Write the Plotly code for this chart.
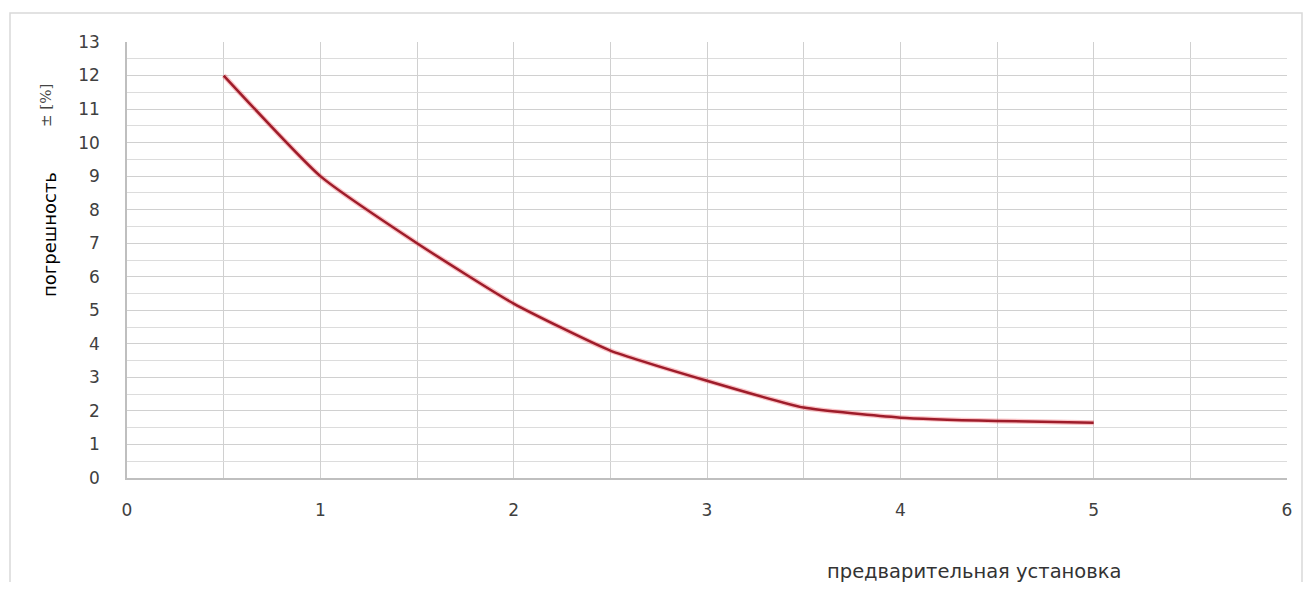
import plotly.graph_objects as go

x_vals = [0.5, 1, 1.5, 2, 2.5, 3, 3.5, 4, 4.5, 5]
y_vals = [12, 9, 7, 5.2, 3.8, 2.9, 2.1, 1.8, 1.7, 1.65]
x_title = "предварительная установка"
y_title = "погрешность"
y_unit = "± [%]"

OFF = 8  # page body margin
W, H = 1295, 574
L, T = 127 - OFF, 42 - OFF
pw, ph = 1160, 436
R = W - L - pw
B = H - T - ph

def px2x(p):
    return (p - OFF - L) / pw

def py2y(p):
    return (T + ph - (p - OFF)) / ph

fig = go.Figure()
fig.add_trace(go.Scatter(x=x_vals, y=y_vals, mode="lines",
                         line=dict(color="rgba(240,80,90,0.35)", width=5, shape="spline", smoothing=0.5),
                         hoverinfo="skip", showlegend=False))
fig.add_trace(go.Scatter(x=x_vals, y=y_vals, mode="lines",
                         line=dict(color="#9e1c2a", width=2.5, shape="spline", smoothing=0.5),
                         showlegend=False))

tickfont = dict(family="DejaVu Sans", size=17, color="#404040")
fig.update_xaxes(range=[0, 6], dtick=1, tick0=0, showgrid=True, gridcolor="#d0d0d0", gridwidth=1,
                 minor=dict(dtick=0.5, showgrid=True, gridcolor="#d0d0d0", gridwidth=1),
                 showline=True, linecolor="#bfbfbf", linewidth=1.5, zeroline=False,
                 ticks="", tickfont=tickfont, ticklabelstandoff=16)
fig.update_yaxes(range=[0, 13], dtick=1, tick0=0, showgrid=True, gridcolor="#d0d0d0", gridwidth=1,
                 minor=dict(dtick=0.5, showgrid=True, gridcolor="#dcdcdc", gridwidth=1),
                 showline=True, linecolor="#bfbfbf", linewidth=1.5, zeroline=False,
                 ticks="", tickfont=tickfont, ticklabelstandoff=22)

fig.add_shape(type="rect", xref="paper", yref="paper",
              x0=px2x(10), x1=px2x(1302), y0=py2y(600), y1=py2y(13),
              line=dict(color="#d9d9d9", width=1.5), fillcolor="rgba(0,0,0,0)", layer="below")

fig.add_annotation(text=y_title, xref="paper", yref="paper", x=px2x(50), y=py2y(235),
                   xanchor="center", yanchor="middle",
                   textangle=-90, showarrow=False, font=dict(family="DejaVu Sans", size=18, color="#000000"))
fig.add_annotation(text=y_unit, xref="paper", yref="paper", x=px2x(46), y=py2y(106),
                   xanchor="center", yanchor="middle",
                   textangle=-90, showarrow=False, font=dict(family="DejaVu Serif", size=15, color="#444444"))
fig.add_annotation(text=x_title, xref="paper", yref="paper", x=px2x(974), y=py2y(571),
                   xanchor="center", yanchor="middle",
                   showarrow=False, font=dict(family="DejaVu Sans", size=19.5, color="#333333"))

fig.update_layout(width=W, height=H, autosize=False,
                  margin=dict(l=L, r=R, t=T, b=B),
                  paper_bgcolor="white", plot_bgcolor="white")
fig.write_html("out.html")
